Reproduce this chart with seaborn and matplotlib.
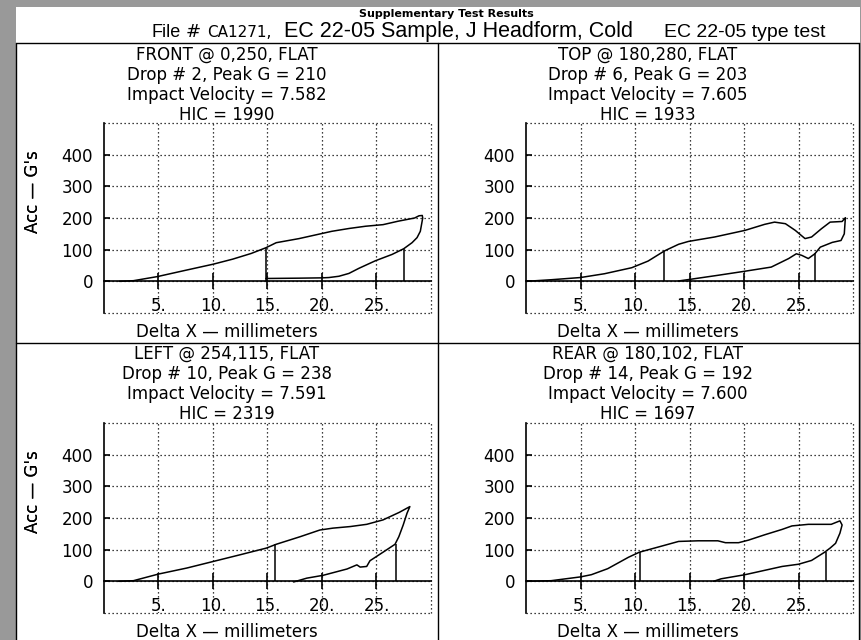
import matplotlib
matplotlib.use("Agg")
import matplotlib.pyplot as plt
import seaborn as sns
from matplotlib.lines import Line2D
from matplotlib.patches import Rectangle

# values
locations = ["FRONT @ 0,250, FLAT", "TOP @ 180,280, FLAT",
             "LEFT @ 254,115, FLAT", "REAR @ 180,102, FLAT"]
drops = [2, 6, 10, 14]
peak_g = [210, 203, 238, 192]
velocities = ["7.582", "7.605", "7.591", "7.600"]
hic = [1990, 1933, 2319, 1697]

front_x = [1.4, 2.7, 4.9, 7.5, 10.0, 11.8, 13.5, 14.85, 15.8, 17.9, 20.9, 22.5, 24.0, 25.6,
           27.0, 28.5, 28.9, 29.2, 29.24, 29.02, 28.72, 28.26, 27.5, 26.43, 24.9, 23.38,
           22.47, 21.55, 20.64, 20.03, 17.9, 14.85]
front_y = [0, 2, 15, 35, 54, 70, 88, 106, 122, 135, 158, 167, 174, 179,
           190, 200, 207, 208, 200, 158, 138, 122, 103, 85, 65, 41,
           25, 16, 12, 11, 10, 9]

top_x = [0.0, 2.3, 5.0, 7.2, 9.7, 11.2, 12.7, 14.0, 14.9, 17.3, 20.1, 21.9, 22.8, 23.8,
         24.7, 25.6, 26.2, 27.1, 27.9, 29.0, 29.3, 29.2, 28.9, 28.1, 27.0, 26.5, 25.9,
         25.3, 24.8, 24.1, 22.5, 20.1, 17.6, 15.2, 13.97]
top_y = [0, 5, 12, 24, 43, 64, 96, 117, 126, 140, 161, 180, 187, 182,
         161, 135, 140, 166, 187, 189, 201, 150, 129, 123, 108, 87, 72,
         82, 87, 72, 45, 32, 19, 7, 1]

left_x = [1.35, 2.7, 5.0, 7.6, 10.05, 12.5, 14.9, 15.8, 18.0, 19.8, 21.0, 22.6, 24.1, 25.6,
          27.1, 28.06, 27.8, 27.45, 27.05, 26.7, 25.6, 24.4, 24.1, 23.5, 23.2, 22.3,
          20.1, 18.6, 17.4]
left_y = [0, 2, 23, 42, 63, 84, 105, 117, 141, 162, 168, 173, 180, 194,
          218, 236, 215, 178, 141, 117, 92, 65, 47, 45, 52, 39,
          19, 10, -2]

rear_x = [0.0, 2.3, 5.0, 6.0, 7.5, 9.4, 10.4, 12.1, 14.0, 15.8, 17.6, 18.3, 19.5, 20.4,
          21.9, 23.5, 24.4, 25.9, 28.0, 28.8, 29.0, 28.8, 28.4, 27.9, 27.4, 26.2, 25.0,
          23.5, 20.1, 17.9, 17.2]
rear_y = [0, 2, 14, 21, 40, 76, 92, 108, 126, 128, 128, 122, 122, 130,
          147, 164, 175, 180, 180, 191, 178, 152, 120, 105, 92, 66, 54,
          47, 21, 8, 0]

curves_x = [front_x, top_x, left_x, rear_x]
curves_y = [front_y, top_y, left_y, rear_y]

# HIC window markers (start / end position and height)
hic_x1 = [14.85, 12.7, 15.7, 10.45]
hic_y1 = [106, 96, 118, 92]
hic_x2 = [27.5, 26.5, 26.8, 27.5]
hic_y2 = [103, 90, 117, 92]

x_ticks = [5, 10, 15, 20, 25]
x_tick_labels = ["5.", "10.", "15.", "20.", "25."]
y_ticks = [0, 100, 200, 300, 400]
y_tick_labels = ["0", "100", "200", "300", "400"]

sns.set_style("white")
plt.rcParams["font.family"] = ["DejaVu Sans"]
plt.rcParams["text.color"] = "black"
plt.rcParams["axes.labelcolor"] = "black"

W, H = 862, 640


def fx(p):
    return p / W


def fy(p):
    return 1 - p / H


fig = plt.figure(figsize=(8.62, 6.4), dpi=100, facecolor="#999999")
fig.add_artist(Rectangle((fx(16), 0), fx(860) - fx(16), fy(7), transform=fig.transFigure,
                         facecolor="white", edgecolor="none", zorder=-5))

# outer frame and panel dividers
frame = [((16.5, 42.5), (859.5, 42.5)), ((16.5, 42.5), (16.5, 640)),
         ((859.5, 42.5), (859.5, 640)), ((438, 42.5), (438, 640)),
         ((16.5, 343), (859.5, 343))]
for (x0, y0), (x1, y1) in frame:
    fig.add_artist(Line2D([fx(x0), fx(x1)], [fy(y0), fy(y1)], transform=fig.transFigure,
                          color="black", lw=1.0))

# header
fig.text(fx(446), fy(14), "Supplementary Test Results", ha="center", va="center",
         fontsize=8, fontweight="semibold")
fig.text(fx(152), fy(37), "File", ha="left", va="baseline", fontsize=13,
         family=["Liberation Sans", "DejaVu Sans"])
fig.text(fx(186), fy(37), "#", ha="left", va="baseline", fontsize=13)
fig.text(fx(207), fy(37), "CA1271,", ha="left", va="baseline", fontsize=11)
fig.text(fx(284), fy(37), "EC 22-05 Sample, J Headform, Cold", ha="left", va="baseline",
         fontsize=15.5, family=["Liberation Sans", "DejaVu Sans"])
fig.text(fx(826), fy(37), "EC 22-05 type test", ha="right", va="baseline",
         fontsize=14, family=["Liberation Sans", "DejaVu Sans"])

axes_px = [(104, 123, 431, 313), (526, 123, 853, 313),
           (104, 423, 431, 613), (526, 423, 853, 613)]
panel_cx = [227, 648, 227, 648]
title_top = [55, 55, 354, 354]

dot = (0, (1, 2.2))

for i, (l, t, r, b) in enumerate(axes_px):
    ax = fig.add_axes([fx(l), fy(b), fx(r) - fx(l), (b - t) / H])
    ax.set_facecolor("none")
    sns.lineplot(x=curves_x[i], y=curves_y[i], sort=False, estimator=None,
                 color="black", lw=1.1, ax=ax)
    ax.vlines([hic_x1[i], hic_x2[i]], 0, [hic_y1[i], hic_y2[i]], color="black", lw=1.1)

    ax.set_xlim(0, 30)
    ax.set_ylim(-100, 500)
    ax.set_xticks(x_ticks)
    ax.set_xticklabels(x_tick_labels)
    ax.set_yticks(y_ticks)
    ax.set_yticklabels(y_tick_labels)
    ax.grid(True, color="black", lw=0.9, ls=dot)

    for s in ["top", "right"]:
        ax.spines[s].set_visible(False)
    ax.spines["left"].set_linewidth(1.2)
    ax.spines["left"].set_color("black")
    ax.spines["bottom"].set_position(("data", 0))
    ax.spines["bottom"].set_linewidth(1.2)
    ax.spines["bottom"].set_color("black")
    ax.axhline(500, color="black", lw=0.9, ls=dot, clip_on=False)
    ax.axhline(-100, color="black", lw=0.9, ls=dot, clip_on=False)
    ax.axvline(30, color="black", lw=0.9, ls=dot, clip_on=False)

    ax.tick_params(axis="x", bottom=True, direction="inout", length=11, width=1.2,
                   pad=6, labelsize=12, colors="black")
    ax.tick_params(axis="y", left=True, direction="in", length=4, width=1.2,
                   pad=8, labelsize=12, colors="black")

    ax.set_xlabel("Delta X \u2014 millimeters", fontsize=12)
    ax.xaxis.set_label_coords((panel_cx[i] - l) / (r - l), -0.053)
    ax.set_ylabel("Acc \u2014 G's", fontsize=12)
    ax.yaxis.set_label_coords((42 - l) / (r - l), 0.637)

    lines = [locations[i],
             f"Drop # {drops[i]}, Peak G = {peak_g[i]}",
             f"Impact Velocity = {velocities[i]}",
             f"HIC = {hic[i]}"]
    for k, txt in enumerate(lines):
        fig.text(fx(panel_cx[i]), fy(title_top[i] + 20 * k), txt,
                 ha="center", va="center", fontsize=12)

fig.savefig("out.png", dpi=100, facecolor=fig.get_facecolor())
